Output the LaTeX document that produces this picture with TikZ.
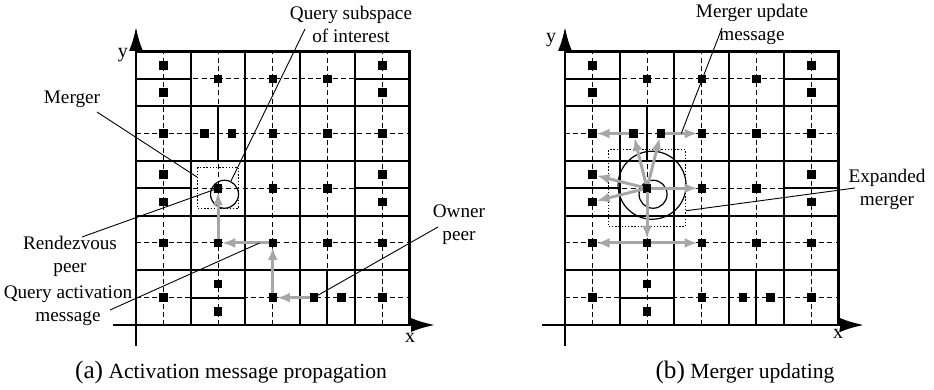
\documentclass[tikz,border=0pt]{standalone}
\usepackage{fontspec}
\setmainfont{Liberation Serif}
\usetikzlibrary{arrows.meta,calc,positioning}
\tikzset{zone/.style={line width=1pt},
  centre/.style={line width=0.5pt, dash pattern=on 2.5pt off 1.6pt},
  peer/.style={draw, fill=black, rectangle, minimum size=3.8pt, inner sep=0pt},
  axis/.style={line width=1.3pt, -{Latex[length=12pt,width=7pt]}},
  msg/.style={draw=black!35, line width=1.5pt, -{Latex[length=6.5pt,width=5pt]}},
  region/.style={draw, rectangle, inner sep=0pt, line width=0.6pt, dash pattern=on 0.7pt off 0.9pt},
  subsp/.style={draw, circle, inner sep=0pt, line width=0.6pt},
  leader/.style={line width=0.45pt},
  lbl/.style={align=center, inner sep=1pt, font=\fontsize{9.6}{11.5}\selectfont},
  subcaption/.style={inner sep=1pt, font=\fontsize{10.8}{13}\selectfont}}
% one panel: zones, centre lines, axes and peers, names start with #1
\newcommand{\zonemap}[1]{%
  \draw[centre, shift={(0.5,0.5)}, step=27.35pt] (-0.5,-0.5) grid (4.5,4.5);
  \draw[zone, step=27.35pt] (0,0) grid (5,5);
  \draw[zone] (0,0) rectangle (5,5);
  \draw[zone] (0,4.5) -- (1,4.5) (4,4.5) -- (5,4.5) (1.5,3) -- (1.5,4)
    (0,2.5) -- (1,2.5) (4,2.5) -- (5,2.5) (1,0.5) -- (2,0.5) (3.5,0) -- (3.5,1);
  \draw[axis] (-0.42,0) -- (5.47,0);
  \draw[axis] (0,-0.38) -- (0,5.45);
  \node[peer] (#104a) at (0.5,4.75) {};
  \node[peer] (#104b) at (0.5,4.25) {};
  \node[peer] (#114) at (1.5,4.5) {};
  \node[peer] (#124) at (2.5,4.5) {};
  \node[peer] (#134) at (3.5,4.5) {};
  \node[peer] (#144a) at (4.5,4.75) {};
  \node[peer] (#144b) at (4.5,4.25) {};
  \node[peer] (#103) at (0.5,3.5) {};
  \node[peer] (#113a) at (1.25,3.5) {};
  \node[peer] (#113b) at (1.75,3.5) {};
  \node[peer] (#123) at (2.5,3.5) {};
  \node[peer] (#133) at (3.5,3.5) {};
  \node[peer] (#143) at (4.5,3.5) {};
  \node[peer] (#102a) at (0.5,2.75) {};
  \node[peer] (#102b) at (0.5,2.25) {};
  \node[peer] (#112) at (1.5,2.5) {};
  \node[peer] (#122) at (2.5,2.5) {};
  \node[peer] (#132) at (3.5,2.5) {};
  \node[peer] (#142a) at (4.5,2.75) {};
  \node[peer] (#142b) at (4.5,2.25) {};
  \node[peer] (#101) at (0.5,1.5) {};
  \node[peer] (#111) at (1.5,1.5) {};
  \node[peer] (#121) at (2.5,1.5) {};
  \node[peer] (#131) at (3.5,1.5) {};
  \node[peer] (#141) at (4.5,1.5) {};
  \node[peer] (#100) at (0.5,0.5) {};
  \node[peer] (#110a) at (1.5,0.75) {};
  \node[peer] (#110b) at (1.5,0.25) {};
  \node[peer] (#120) at (2.5,0.5) {};
  \node[peer] (#130a) at (3.25,0.5) {};
  \node[peer] (#130b) at (3.75,0.5) {};
  \node[peer] (#140) at (4.5,0.5) {};
}

\begin{document}
\begin{tikzpicture}[x=0.5pt, y=-0.5pt]
\useasboundingbox (0,0) rectangle (934,390);

% (a) activation
\begin{scope}[shift={(136,325)}, x=27.35pt, y=27.35pt]
\zonemap{a}
\end{scope}
\node[region, minimum size=20.35pt] (amerger) at (a12) {};
\node[subsp, minimum size=14pt] (aquery) at ($(a12)+(6.5,6)$) {};
\draw[msg] (a30a) -- (a20);
\draw[msg] (a20) -- (a21);
\draw[msg] (a21) -- (a11);
\draw[msg] (a11) -- (a12);
\node (axlab) at (410,338) {x};
\node (aylab) at (123,55) {y};

\node[lbl] (qsub) at (351,24.5) {Query subspace\\of interest};
\node[lbl] (mlbl) at (72,99) {Merger};
\node[lbl] (rlbl) at (70,256) {Rendezvous\\peer};
\node[lbl] (albl) at (68,306) {Query activation\\message};
\node[lbl] (olbl) at (459,225) {Owner\\peer};
\draw[leader] ($(qsub)+(-46,4.5)$) -- (aquery.64);
\draw[leader] ($(mlbl)+(25,13)$) -- (amerger.152);
\draw[leader] ($(rlbl)+(12,-19)$) -- (a12.center);
\draw[leader] ($(albl)+(42,4)$) -- ($(a21)!0.24!(a11)$);
\draw[leader] ($(olbl)+(-21,2)$) -- (a30a.center);

% (b) merger update
\begin{scope}[shift={(565,325)}, x=27.35pt, y=27.35pt]
\zonemap{b}
\end{scope}
\node[region, minimum size=38.35pt] (bmerger) at (b12) {};
\node[subsp, minimum size=34pt] (bexp) at ($(b12)+(5,-3)$) {};
\node[subsp, minimum size=14pt] (bquery) at ($(b12)+(6,6)$) {};
\draw[msg] (b12) -- (b02a);
\draw[msg] (b12) -- (b02b);
\draw[msg] (b12) -- (b13a);
\draw[msg] (b12) -- (b13b);
\draw[msg] (b12) -- (b22);
\draw[msg] (b12) -- (b11);
\draw[msg] (b13a) -- (b03);
\draw[msg] (b13b) -- (b23);
\draw[msg] (b11) -- (b01);
\draw[msg] (b11) -- (b21);
\node (bxlab) at (838,334) {x};
\node (bylab) at (551,40) {y};

\node[lbl] (ulbl) at (752,24.5) {Merger update\\message};
\node[lbl] (elbl) at (887,189) {Expanded\\merger};
\draw[leader] ($(ulbl)+(-30,3.5)$) -- ($(b13b)!0.5!(b23)$);
\draw[leader] ($(elbl)+(-32,-1)$) -- (bmerger.330);

\node[subcaption] (acap) at (231,372) {{\fontsize{12.6}{13}\selectfont(a)} Activation message propagation};
\node[subcaption] (bcap) at (745,372) {{\fontsize{12.6}{13}\selectfont(b)} Merger updating};
\end{tikzpicture}
\end{document}
